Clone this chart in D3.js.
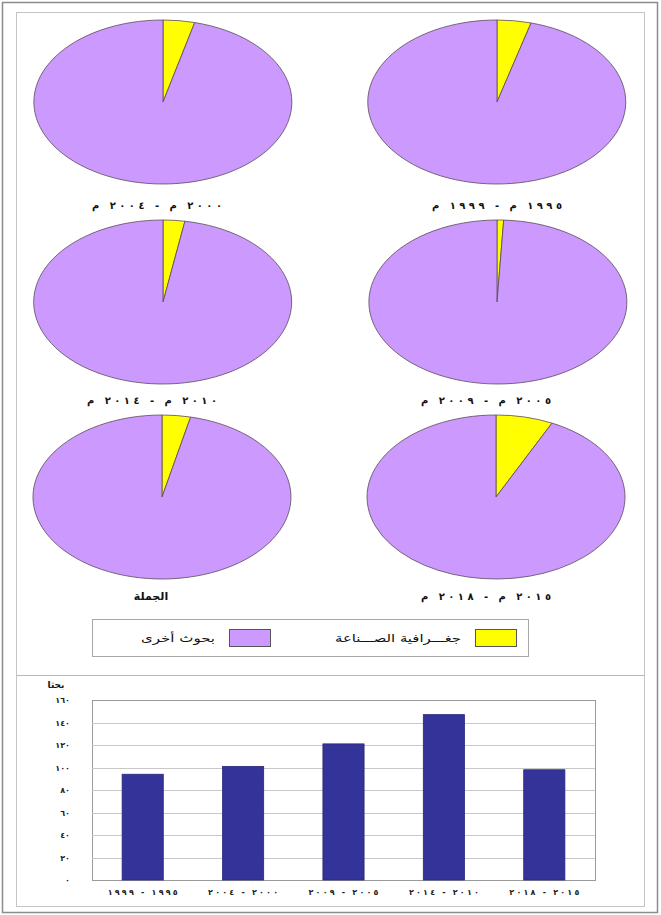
<!DOCTYPE html>
<html><head><meta charset="utf-8">
<script src="https://cdn.jsdelivr.net/npm/d3@7"></script>
<style>
html,body{margin:0;padding:0;background:#fff;}
svg{display:block;font-family:"DejaVu Sans",sans-serif;}
</style></head>
<body>
<svg id="chart" width="661" height="915"></svg>
<script>
// ---- data ----
const seriesNames = ["جغـــرافية الصـــناعة", "بحوث أخرى"];
const pieTitles = ["١٩٩٥ م - ١٩٩٩ م", "٢٠٠٠ م - ٢٠٠٤ م", "٢٠٠٥ م - ٢٠٠٩ م", "٢٠١٠ م - ٢٠١٤ م", "٢٠١٥ م - ٢٠١٨ م", "الجملة"];
const industryGeo = [4, 4, 1, 4, 7, 20];
const otherResearch = [90, 97, 120, 143, 91, 541];
const periods = ["١٩٩٥ - ١٩٩٩", "٢٠٠٠ - ٢٠٠٤", "٢٠٠٥ - ٢٠٠٩", "٢٠١٠ - ٢٠١٤", "٢٠١٥ - ٢٠١٨"];
const totals = [94, 101, 121, 147, 98];
const yTicks = [0, 20, 40, 60, 80, 100, 120, 140, 160];
const yTickLabels = ["٠", "٢٠", "٤٠", "٦٠", "٨٠", "١٠٠", "١٢٠", "١٤٠", "١٦٠"];
const yAxisTitle = "بحثا";

const colors = ["#FFFF00", "#CC99FF"];

const svg = d3.select("#chart");

// frames
svg.append("rect").attr("x", 2.5).attr("y", 2.5).attr("width", 655).attr("height", 910)
  .attr("fill", "none").attr("stroke", "#8c8c8c").attr("stroke-width", 1.5);
svg.append("rect").attr("x", 16.5).attr("y", 12.5).attr("width", 628).attr("height", 894)
  .attr("fill", "none").attr("stroke", "#c4c4c4").attr("stroke-width", 1);
svg.append("line").attr("x1", 16.5).attr("x2", 644.5).attr("y1", 675.5).attr("y2", 675.5)
  .attr("stroke", "#b8b8b8");

// ---- pies ----
const pieLayout = [
  {cx: 497, cy: 102, lx: 497, ly: 209},
  {cx: 163, cy: 102, lx: 157, ly: 209},
  {cx: 497, cy: 302, lx: 486, ly: 404},
  {cx: 163, cy: 302, lx: 152, ly: 404},
  {cx: 496, cy: 497, lx: 486, ly: 600},
  {cx: 162, cy: 497, lx: 151, ly: 600}
];
const rx = 129, ry = 82;
const pie = d3.pie().sort(null).value(d => d.v);
const arc = d3.arc().innerRadius(0).outerRadius(1);

pieTitles.forEach((title, i) => {
  const L = pieLayout[i];
  const data = [{k: 0, v: industryGeo[i]}, {k: 1, v: otherResearch[i]}];
  const g = svg.append("g").attr("transform", `translate(${L.cx},${L.cy}) scale(${rx},${ry})`);
  g.selectAll("path").data(pie(data)).join("path")
    .attr("d", arc)
    .attr("fill", d => colors[d.data.k])
    .attr("stroke", "#5b4a55")
    .attr("stroke-width", 0.8)
    .attr("vector-effect", "non-scaling-stroke");
  const t = svg.append("text").attr("x", L.lx).attr("y", L.ly)
    .attr("text-anchor", "middle").attr("direction", "rtl")
    .attr("font-size", i === 5 ? 11 : 10).attr("font-weight", "bold")
    .attr("fill", "#111").text(title);
  if (i !== 5) t.attr("textLength", 130).attr("lengthAdjust", "spacing");
});

// ---- legend ----
svg.append("rect").attr("x", 92.5).attr("y", 619.5).attr("width", 436).attr("height", 37)
  .attr("fill", "#fff").attr("stroke", "#a8a8a8");
const legendItems = [
  {x: 475, tx: 461, len: 126},
  {x: 229, tx: 215, len: 74}
];
seriesNames.forEach((name, i) => {
  const it = legendItems[i];
  svg.append("rect").attr("x", it.x + 0.5).attr("y", 629.5).attr("width", 41).attr("height", 17)
    .attr("fill", colors[i]).attr("stroke", "#555");
  svg.append("text").attr("x", it.tx).attr("y", 642)
    .attr("text-anchor", "start").attr("direction", "rtl")
    .attr("font-size", 11).attr("fill", "#111")
    .attr("textLength", it.len).attr("lengthAdjust", "spacingAndGlyphs")
    .text(name);
});

// ---- bar chart ----
const plot = {left: 92, right: 595, top: 700, bottom: 880};
const x = d3.scaleBand().domain(periods).range([plot.left, plot.right]).paddingInner(0.59).paddingOuter(0.3);
const y = d3.scaleLinear().domain([0, 160]).range([plot.bottom, plot.top]);

svg.append("rect").attr("x", plot.left + 0.5).attr("y", plot.top + 0.5)
  .attr("width", plot.right - plot.left).attr("height", plot.bottom - plot.top)
  .attr("fill", "#fff").attr("stroke", "#9a9a9a");

svg.append("g").selectAll("line").data(yTicks.filter(t => t > 0 && t < 160)).join("line")
  .attr("x1", plot.left).attr("x2", plot.right)
  .attr("y1", d => Math.round(y(d)) + 0.5).attr("y2", d => Math.round(y(d)) + 0.5)
  .attr("stroke", "#c8c8c8");

const yAxis = d3.axisLeft(y).tickValues(yTicks).tickFormat((d, i) => yTickLabels[i]).tickSize(0).tickPadding(22);
const ya = svg.append("g").attr("transform", `translate(${plot.left},0)`).call(yAxis);
ya.select(".domain").remove();
ya.selectAll("text").attr("font-size", 8).attr("font-family", "DejaVu Sans").attr("fill", "#222")
  .attr("font-weight", "bold").attr("letter-spacing", 1.5);

svg.append("g").selectAll("rect").data(totals).join("rect")
  .attr("x", (d, i) => x(periods[i]))
  .attr("y", d => y(d))
  .attr("width", x.bandwidth())
  .attr("height", d => y(0) - y(d))
  .attr("fill", "#333399").attr("stroke", "#28287a").attr("stroke-width", 0.8);

const xAxis = d3.axisBottom(x).tickSize(0).tickPadding(9);
const xa = svg.append("g").attr("transform", `translate(0,${plot.bottom})`).call(xAxis);
xa.select(".domain").remove();
xa.selectAll("text").attr("font-size", 8).attr("font-family", "DejaVu Sans").attr("fill", "#222")
  .attr("font-weight", "bold").attr("direction", "rtl")
  .attr("textLength", 70).attr("lengthAdjust", "spacing");

svg.append("text").attr("x", 56).attr("y", 688).attr("text-anchor", "middle")
  .attr("font-size", 9).attr("font-weight", "bold").attr("fill", "#111").text(yAxisTitle);
</script>
</body></html>
